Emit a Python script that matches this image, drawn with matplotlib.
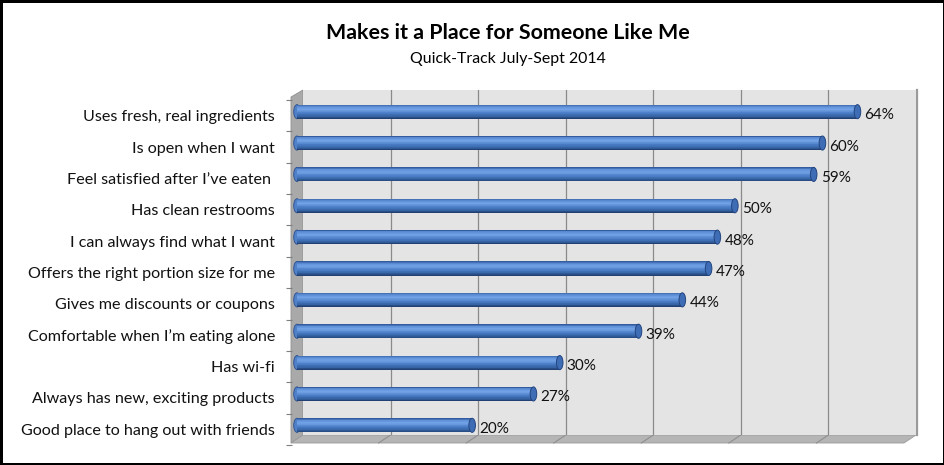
import numpy as np
import matplotlib
matplotlib.use("Agg")
import matplotlib.pyplot as plt
import matplotlib.transforms as mtransforms
from matplotlib.patches import Polygon, Ellipse
from matplotlib.colors import LinearSegmentedColormap

# ---------------- data ----------------
categories = [
    "Uses fresh, real ingredients",
    "Is open when I want",
    "Feel satisfied after I\u2019ve eaten ",
    "Has clean restrooms",
    "I can always find what I want",
    "Offers the right portion size for me",
    "Gives me discounts or coupons",
    "Comfortable when I\u2019m eating alone",
    "Has wi-fi",
    "Always has new, exciting products",
    "Good place to hang out with friends",
]
values = [64, 60, 59, 50, 48, 47, 44, 39, 30, 27, 20]
title = "Makes it a Place for Someone Like Me"
subtitle = "Quick-Track July-Sept 2014"
x_max = 70
grid_ticks = [10, 20, 30, 40, 50, 60]

FONT = ["Lato", "DejaVu Sans"]
plt.rcParams["font.family"] = FONT

W, H, DPI = 945, 465, 100
fig = plt.figure(figsize=(W / DPI, H / DPI), dpi=DPI)
fig.patch.set_facecolor("white")
fig.patch.set_edgecolor("black")
fig.patch.set_linewidth(3.6)

def px(x, y):
    """convert top-down pixel coordinates to bottom-up display coords"""
    return (x, H - y)

# background decoration axes in pixel coordinates
bg = fig.add_axes([0, 0, 1, 1], zorder=0)
bg.set_xlim(0, W)
bg.set_ylim(0, H)
bg.axis("off")

# back wall geometry (pixels, top-down)
wl, wr, wt, wb = 303, 916, 90, 435
dx, dy = 12, 8  # depth offset toward viewer (left, down)

ax = fig.add_axes([wl / W, 1 - wb / H, (wr - wl) / W, (wb - wt) / H], zorder=2)
ax.set_facecolor("#e4e4e4")
for s in ax.spines.values():
    s.set_visible(False)
ax.set_xticks([])
ax.set_yticks([])
n = len(categories)
ax.set_xlim(0, x_max)
ax.set_ylim(n - 0.5, -0.5)

# left wall
bg.add_patch(Polygon([px(wl - dx, wt + 7), px(wl, wt), px(wl, wb), px(wl - dx, wb + dy)],
                     closed=True, facecolor="#a9a9a9", edgecolor="#8f8f8f", lw=0.6))
# floor
bg.add_patch(Polygon([px(wl, wb), px(wr, wb), px(wr - dx, wb + dy), px(wl - dx, wb + dy)],
                     closed=True, facecolor="#b5b5b5", edgecolor="#9a9a9a", lw=0.6))
# right edge of back wall
bg.plot([wr + 1, wr + 1], [H - wt, H - wb], color="#9a9a9a", lw=1.6)

# gridlines on back wall
for g in grid_ticks:
    ax.axvline(g, color="#8a8a8a", lw=0.9, zorder=1)
    x0, y0 = ax.transData.transform((g, n - 0.5))
    bg.plot([x0, x0 - dx], [y0, y0 - dy], color="#8f8f8f", lw=0.8)

# small tick marks at front-left edge between categories
bounds = np.arange(n + 1) - 0.5
tick_off = mtransforms.ScaledTranslation(-(dx - 1) / DPI, -10 / DPI, fig.dpi_scale_trans)
ax.hlines(bounds, -6 / (wr - wl), 0, transform=ax.get_yaxis_transform() + tick_off,
          color="#7f7f7f", lw=0.8, clip_on=False)

# cylindrical bars (gradient built from stacked slices)
bar_off = mtransforms.ScaledTranslation(-6 / DPI, -6 / DPI, fig.dpi_scale_trans)
bar_tr = ax.transData + bar_off
cmap = LinearSegmentedColormap.from_list(
    "cyl", [(0.0, "#2c5193"), (0.14, "#5c8fd8"), (0.34, "#74a3e6"),
            (0.6, "#4b7ec8"), (0.85, "#33609f"), (1.0, "#1f3a6b")])
bh = 0.45
N = 20
yy = np.arange(n)
vals = np.array(values, dtype=float)
for k in range(N):
    frac = (k + 0.5) / N
    yk = yy - bh / 2 + frac * bh
    ax.barh(yk, vals, height=bh / N * 1.05, left=0, color=cmap(frac),
            edgecolor="none", transform=bar_tr, clip_on=False, zorder=3)
cap_w = 0.75
for i, v in enumerate(values):
    ax.add_patch(Ellipse((v, i), cap_w, bh, facecolor="#3e6db5", edgecolor="#23457f",
                         lw=0.7, transform=bar_tr, clip_on=False, zorder=4))
    ax.add_patch(Ellipse((0, i), cap_w, bh, facecolor="#4f80c8", edgecolor="#2a4d8a",
                         lw=0.6, transform=bar_tr, clip_on=False, zorder=2.9))

fig.canvas.draw()
renderer = fig.canvas.get_renderer()

def fit(t, target):
    for _ in range(3):
        w = t.get_window_extent(renderer).width
        t.set_fontsize(t.get_fontsize() * target / w)

# category labels (baseline slightly below bar centre)
lab_off = mtransforms.ScaledTranslation(-28 / DPI, -15.5 / DPI, fig.dpi_scale_trans)
labels = []
for i, c in enumerate(categories):
    t = ax.text(0, i, c, ha="right", va="baseline", fontsize=10.5, color="#111111",
                transform=ax.get_yaxis_transform() + lab_off, clip_on=False)
    labels.append(t)
probe = labels[-1]
fit(probe, 254)
for t in labels:
    t.set_fontsize(probe.get_fontsize())

# value labels
val_off = mtransforms.ScaledTranslation(1 / DPI, -13.5 / DPI, fig.dpi_scale_trans)
vtexts = []
for i, v in enumerate(values):
    t = ax.text(v, i, f"{v}%", ha="left", va="baseline", fontsize=10.5, color="#111111",
                transform=ax.transData + val_off, clip_on=False, zorder=5)
    vtexts.append(t)
fit(vtexts[0], 30)
for t in vtexts:
    t.set_fontsize(vtexts[0].get_fontsize())

tt = fig.text(508 / W, 1 - 33 / H, title, ha="center", va="center",
              fontsize=14, fontweight="bold", color="black")
fit(tt, 364)
st = fig.text(508 / W, 1 - 59 / H, subtitle, ha="center", va="center",
              fontsize=11, color="black")
fit(st, 196)

fig.savefig("out.png", dpi=DPI, facecolor=fig.get_facecolor(), edgecolor=fig.get_edgecolor())
